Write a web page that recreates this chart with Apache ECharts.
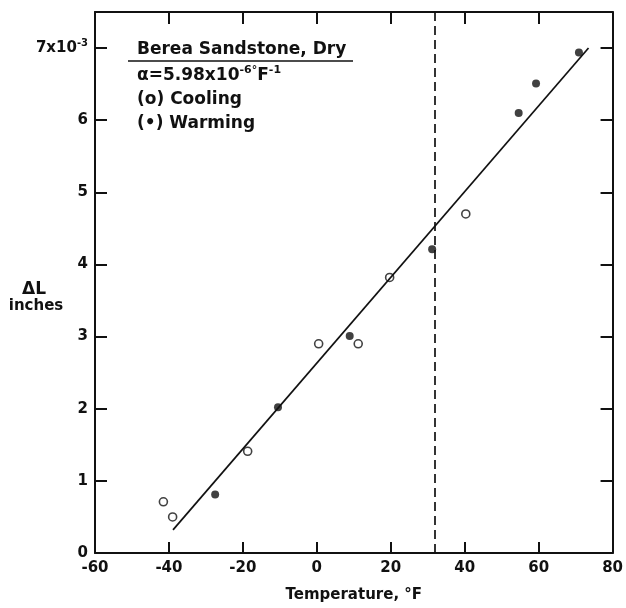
<!DOCTYPE html>
<html><head><meta charset="utf-8">
<script src="https://cdn.jsdelivr.net/npm/echarts@6/dist/echarts.min.js"></script>
<style>html,body{margin:0;padding:0;background:#fff}#c{width:626px;height:608px}</style>
</head><body><div id="c"></div>
<script>
// Data
const xTickLabels = [-60, -40, -20, 0, 20, 40, 60, 80];
const yTickLabels = [0, 1, 2, 3, 4, 5, 6, 7];
const coolingT  = [-41.5, -39.0, -18.7, 0.5, 11.2, 19.7, 40.3];
const coolingDL = [0.71, 0.50, 1.41, 2.90, 2.90, 3.82, 4.70];
const warmingT  = [-27.5, -10.5, 8.9, 31.2, 54.6, 59.3, 70.9];
const warmingDL = [0.81, 2.02, 3.01, 4.21, 6.10, 6.51, 6.94];
const fitT  = [-38.9, 73.5];
const fitDL = [0.32, 7.0];
const freezingT = 32;

const zip = (a, b) => a.map((v, i) => [v, b[i]]);
const FONT = 'DejaVu Sans';
const INK = '#111';

const chart = echarts.init(document.getElementById('c'), null, {renderer: 'canvas'});
const xCommon = {
  type: 'value', min: -60, max: 80, interval: 20,
  splitLine: {show: false},
  axisLine: {show: true, onZero: false, lineStyle: {color: INK, width: 2}},
  axisTick: {show: true, inside: true, length: 11, lineStyle: {color: INK, width: 2}}
};
const yCommon = {
  type: 'value', min: 0, max: 7.5, interval: 1,
  splitLine: {show: false},
  axisLine: {show: true, onZero: false, lineStyle: {color: INK, width: 2}},
  axisTick: {show: true, inside: true, length: 12, lineStyle: {color: INK, width: 2}}
};
const txt = (x, y, text, size, align) => ({
  type: 'text', x: x, y: y, silent: true,
  style: {text: text, fontFamily: FONT, fontWeight: 'bold', fontSize: size, fill: INK,
          align: align || 'left', verticalAlign: 'middle'}
});
chart.setOption({
  animation: false,
  backgroundColor: '#fff',
  grid: {left: 95, right: 13, top: 12, bottom: 51, containLabel: false},
  xAxis: [
    Object.assign({}, xCommon, {
      position: 'bottom',
      name: 'Temperature, °F', nameLocation: 'middle', nameGap: 35,
      nameTextStyle: {fontFamily: FONT, fontWeight: 'bold', fontSize: 15, color: INK},
      axisLabel: {fontFamily: FONT, fontWeight: 'bold', fontSize: 15, color: INK, margin: 8,
        formatter: v => xTickLabels.includes(v) ? String(v) : ''}
    }),
    Object.assign({}, xCommon, {position: 'top', axisLabel: {show: false},
      axisTick: {show: true, inside: true, length: 12, lineStyle: {color: INK, width: 2}}})
  ],
  yAxis: [
    Object.assign({}, yCommon, {
      position: 'left',
      axisLabel: {color: INK, margin: 7,
        formatter: v => {
          if (!yTickLabels.includes(v)) return '';
          if (v === 7) return '{n|7x10}{s|-3}';
          return '{n|' + v + '}';
        },
        rich: {
          n: {fontFamily: FONT, fontWeight: 'bold', fontSize: 15, color: INK, lineHeight: 20},
          s: {fontFamily: FONT, fontWeight: 'bold', fontSize: 10, color: INK, verticalAlign: 'top', lineHeight: 20}
        }
      }
    }),
    Object.assign({}, yCommon, {position: 'right', axisLabel: {show: false}})
  ],
  series: [
    {
      type: 'line', data: zip(fitT, fitDL), symbol: 'none',
      lineStyle: {color: INK, width: 1.7}, silent: true,
      markLine: {
        silent: true, symbol: 'none', label: {show: false},
        lineStyle: {color: INK, width: 1.7, type: [9, 5]},
        data: [{xAxis: freezingT}]
      }
    },
    {
      name: 'Cooling', type: 'scatter', data: zip(coolingT, coolingDL),
      symbol: 'circle', symbolSize: 8,
      itemStyle: {color: '#fff', borderColor: INK, borderWidth: 1.6}
    },
    {
      name: 'Warming', type: 'scatter', data: zip(warmingT, warmingDL),
      symbol: 'circle', symbolSize: 8,
      itemStyle: {color: INK}
    }
  ],
  graphic: [
    txt(137, 50, 'Berea Sandstone, Dry', 17),
    {type: 'line', silent: true, shape: {x1: 128, y1: 61, x2: 353, y2: 61}, style: {stroke: INK, lineWidth: 1.6}},
    {type: 'text', x: 137, y: 76, silent: true, style: {
      text: '{n|α=5.98x10}{s|-6°}{n|F}{s|-1}', verticalAlign: 'middle',
      rich: {
        n: {fontFamily: FONT, fontWeight: 'bold', fontSize: 17, fill: INK, lineHeight: 22},
        s: {fontFamily: FONT, fontWeight: 'bold', fontSize: 11, fill: INK, verticalAlign: 'top', lineHeight: 22}
      }
    }},
    txt(137, 100, '(o) Cooling', 17),
    txt(137, 124, '(•) Warming', 17),
    txt(34, 290, 'ΔL', 17, 'center'),
    txt(36, 306, 'inches', 15, 'center')
  ]
});
</script></body></html>
